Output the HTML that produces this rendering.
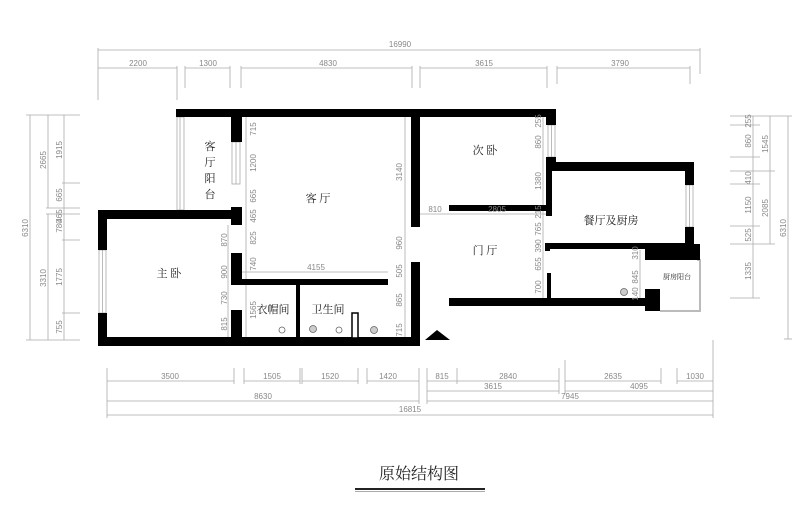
<!DOCTYPE html>
<html><head><meta charset="utf-8"><style>
html,body{margin:0;padding:0;background:#fff;}
svg{display:block;}
.d{font-family:"Liberation Sans",sans-serif;font-size:8px;fill:#888;}
.c{font-family:"Liberation Serif","Noto Serif CJK SC",serif;fill:#222;}
</style></head><body>
<svg width="800" height="513" viewBox="0 0 800 513" xmlns="http://www.w3.org/2000/svg">
<g stroke="#aaa" stroke-width="0.8" fill="none">
<!-- top dims -->
<line x1="98" y1="50" x2="700" y2="50"/>
<line x1="98" y1="68" x2="177" y2="68"/><line x1="185" y1="68" x2="230" y2="68"/>
<line x1="241" y1="68" x2="412" y2="68"/><line x1="420" y1="68" x2="547" y2="68"/>
<line x1="557" y1="68" x2="690" y2="68"/>
<line x1="98" y1="48" x2="98" y2="100"/><line x1="700" y1="48" x2="700" y2="74"/>
<line x1="177" y1="66" x2="177" y2="100"/><line x1="185" y1="66" x2="185" y2="88"/>
<line x1="230" y1="66" x2="230" y2="88"/><line x1="241" y1="66" x2="241" y2="88"/>
<line x1="412" y1="66" x2="412" y2="88"/><line x1="420" y1="66" x2="420" y2="88"/>
<line x1="547" y1="66" x2="547" y2="88"/><line x1="557" y1="66" x2="557" y2="84"/>
<line x1="690" y1="66" x2="690" y2="84"/>
<!-- left dims -->
<line x1="30" y1="115" x2="30" y2="340"/><line x1="48" y1="115" x2="48" y2="208"/>
<line x1="48" y1="214" x2="48" y2="340"/><line x1="64" y1="115" x2="64" y2="340"/>
<line x1="26" y1="115" x2="80" y2="115"/><line x1="26" y1="340" x2="80" y2="340"/>
<line x1="46" y1="208" x2="80" y2="208"/><line x1="46" y1="214" x2="80" y2="214"/>
<line x1="62" y1="183" x2="80" y2="183"/><line x1="62" y1="240" x2="80" y2="240"/>
<line x1="62" y1="313" x2="80" y2="313"/>
<!-- right dims -->
<line x1="788" y1="116" x2="788" y2="339"/><line x1="770" y1="116" x2="770" y2="244"/>
<line x1="753" y1="116" x2="753" y2="298"/>
<line x1="730" y1="116" x2="760" y2="116"/><line x1="730" y1="125" x2="760" y2="125"/>
<line x1="730" y1="157" x2="760" y2="157"/><line x1="730" y1="171" x2="775" y2="171"/>
<line x1="730" y1="184" x2="760" y2="184"/><line x1="730" y1="226" x2="760" y2="226"/>
<line x1="730" y1="244" x2="775" y2="244"/><line x1="730" y1="298" x2="760" y2="298"/>
<line x1="760" y1="116" x2="792" y2="116"/><line x1="784" y1="339" x2="792" y2="339"/>
<!-- bottom dims -->
<line x1="107" y1="381" x2="234" y2="381"/><line x1="244" y1="381" x2="300" y2="381"/>
<line x1="302" y1="381" x2="358" y2="381"/><line x1="367" y1="381" x2="419" y2="381"/>
<line x1="427" y1="381" x2="559" y2="381"/><line x1="565" y1="381" x2="661" y2="381"/>
<line x1="677" y1="381" x2="713" y2="381"/>
<line x1="427" y1="391" x2="559" y2="391"/><line x1="565" y1="391" x2="713" y2="391"/>
<line x1="107" y1="401" x2="419" y2="401"/><line x1="427" y1="401" x2="713" y2="401"/>
<line x1="107" y1="415" x2="713" y2="415"/>
<line x1="107" y1="368" x2="107" y2="418"/><line x1="234" y1="368" x2="234" y2="384"/>
<line x1="244" y1="368" x2="244" y2="384"/><line x1="300" y1="368" x2="300" y2="384"/>
<line x1="302" y1="368" x2="302" y2="384"/><line x1="358" y1="368" x2="358" y2="384"/>
<line x1="367" y1="368" x2="367" y2="384"/><line x1="419" y1="368" x2="419" y2="404"/>
<line x1="427" y1="368" x2="427" y2="404"/><line x1="457" y1="368" x2="457" y2="384"/>
<line x1="559" y1="368" x2="559" y2="394"/><line x1="565" y1="360" x2="565" y2="394"/>
<line x1="661" y1="368" x2="661" y2="384"/><line x1="677" y1="368" x2="677" y2="384"/>
<line x1="713" y1="340" x2="713" y2="418"/>
<!-- interior dims -->
<line x1="246" y1="117" x2="246" y2="337"/><line x1="405" y1="117" x2="405" y2="337"/>
<line x1="228" y1="225" x2="228" y2="337"/>
<line x1="242" y1="272" x2="388" y2="272"/>
<line x1="420" y1="214" x2="449" y2="214"/><line x1="449" y1="214" x2="547" y2="214"/>
<line x1="543" y1="117" x2="543" y2="298"/><line x1="640" y1="250" x2="640" y2="298"/>
<!-- windows -->
<rect x="177" y="117" width="7" height="93"/><line x1="180" y1="117" x2="180" y2="210"/>
<rect x="232" y="142" width="8" height="42"/><line x1="236" y1="142" x2="236" y2="184"/>
<rect x="99" y="250" width="7" height="63"/><line x1="102.5" y1="250" x2="102.5" y2="313"/>
<rect x="548" y="125" width="7" height="32"/><line x1="551.5" y1="125" x2="551.5" y2="157"/>
<rect x="686" y="185" width="7" height="42"/><line x1="689.5" y1="185" x2="689.5" y2="227"/>
<polyline points="697,260 700,260 700,311 660,311" stroke="#bbb" stroke-width="2"/>
</g>
<g fill="#000">
<rect x="176" y="109" width="380" height="8"/>
<rect x="231" y="117" width="11" height="25"/>
<rect x="231" y="207" width="11" height="18"/>
<rect x="98" y="210" width="144" height="9"/>
<rect x="98" y="210" width="9" height="40"/><rect x="98" y="313" width="9" height="33"/>
<rect x="98" y="337" width="322" height="9"/>
<rect x="231" y="253" width="11" height="32"/>
<rect x="231" y="310" width="11" height="36"/>
<rect x="242" y="279" width="146" height="6"/>
<rect x="296" y="285" width="4" height="55"/>
<rect x="411" y="117" width="9" height="110"/>
<rect x="411" y="262" width="9" height="84"/>
<rect x="546" y="109" width="10" height="16"/>
<rect x="546" y="157" width="10" height="14"/>
<rect x="546" y="162" width="148" height="9"/>
<rect x="685" y="162" width="9" height="23"/><rect x="685" y="227" width="9" height="18"/>
<rect x="449" y="205" width="98" height="6"/>
<rect x="546" y="171" width="6" height="45"/>
<rect x="547" y="243" width="138" height="6"/>
<rect x="545" y="243" width="5" height="8"/>
<rect x="645" y="244" width="55" height="16"/>
<rect x="547" y="273" width="4" height="27"/>
<rect x="449" y="298" width="211" height="8"/>
<rect x="645" y="289" width="15" height="22"/>
<polygon points="425,340 437,330 450,340"/>
<rect x="352" y="313" width="6" height="25" fill="#fff" stroke="#000" stroke-width="1.5"/>
</g>
<g stroke="#666" stroke-width="0.8">
<circle cx="282" cy="330" r="3" fill="#fff"/><circle cx="313" cy="329" r="3.5" fill="#ccc"/>
<circle cx="339" cy="330" r="3" fill="#fff"/><circle cx="374" cy="330" r="3.5" fill="#ccc"/>
<circle cx="624" cy="292" r="3.5" fill="#ccc"/>
</g>
<!-- room labels -->
<g class="c" font-size="11" text-anchor="middle">
<text x="210" y="150">客</text><text x="210" y="166">厅</text><text x="210" y="182">阳</text><text x="210" y="198">台</text>
<text x="318" y="202">客 厅</text>
<text x="169" y="277">主 卧</text>
<text x="273" y="313">衣帽间</text>
<text x="328" y="313">卫生间</text>
<text x="485" y="154">次 卧</text>
<text x="485" y="254">门 厅</text>
<text x="611" y="224">餐厅及厨房</text>
<text x="677" y="279" font-size="7">厨房阳台</text>
</g>
<!-- dimension text -->
<g class="d" text-anchor="middle">
<text x="400" y="47">16990</text>
<text x="138" y="66">2200</text><text x="208" y="66">1300</text><text x="328" y="66">4830</text>
<text x="484" y="66">3615</text><text x="620" y="66">3790</text>
<text x="170" y="379">3500</text><text x="272" y="379">1505</text><text x="330" y="379">1520</text>
<text x="388" y="379">1420</text><text x="442" y="379">815</text><text x="508" y="379">2840</text>
<text x="613" y="379">2635</text><text x="695" y="379">1030</text>
<text x="493" y="389">3615</text><text x="639" y="389">4095</text>
<text x="263" y="399">8630</text><text x="570" y="399">7945</text>
<text x="410" y="412">16815</text>
<text x="316" y="270">4155</text>
<text x="435" y="212">810</text><text x="497" y="212">2805</text>
</g>
<g class="d" text-anchor="middle">
<text transform="translate(28,228) rotate(-90)">6310</text>
<text transform="translate(46,160) rotate(-90)">2665</text>
<text transform="translate(46,278) rotate(-90)">3310</text>
<text transform="translate(62,150) rotate(-90)">1915</text>
<text transform="translate(62,195) rotate(-90)">665</text>
<text transform="translate(62,216) rotate(-90)">465</text>
<text transform="translate(62,226) rotate(-90)">780</text>
<text transform="translate(62,277) rotate(-90)">1775</text>
<text transform="translate(62,327) rotate(-90)">755</text>
<text transform="translate(786,228) rotate(-90)">6310</text>
<text transform="translate(768,144) rotate(-90)">1545</text>
<text transform="translate(768,208) rotate(-90)">2085</text>
<text transform="translate(751,121) rotate(-90)">255</text>
<text transform="translate(751,141) rotate(-90)">860</text>
<text transform="translate(751,178) rotate(-90)">410</text>
<text transform="translate(751,205) rotate(-90)">1150</text>
<text transform="translate(751,235) rotate(-90)">525</text>
<text transform="translate(751,271) rotate(-90)">1335</text>
<text transform="translate(256,129) rotate(-90)">715</text>
<text transform="translate(256,163) rotate(-90)">1200</text>
<text transform="translate(256,196) rotate(-90)">665</text>
<text transform="translate(256,216) rotate(-90)">465</text>
<text transform="translate(256,238) rotate(-90)">825</text>
<text transform="translate(256,264) rotate(-90)">740</text>
<text transform="translate(256,310) rotate(-90)">1565</text>
<text transform="translate(227,240) rotate(-90)">870</text>
<text transform="translate(227,272) rotate(-90)">900</text>
<text transform="translate(227,298) rotate(-90)">730</text>
<text transform="translate(227,324) rotate(-90)">815</text>
<text transform="translate(402,172) rotate(-90)">3140</text>
<text transform="translate(402,243) rotate(-90)">960</text>
<text transform="translate(402,271) rotate(-90)">505</text>
<text transform="translate(402,300) rotate(-90)">865</text>
<text transform="translate(402,330) rotate(-90)">715</text>
<text transform="translate(541,121) rotate(-90)">255</text>
<text transform="translate(541,142) rotate(-90)">860</text>
<text transform="translate(541,181) rotate(-90)">1380</text>
<text transform="translate(541,212) rotate(-90)">215</text>
<text transform="translate(541,229) rotate(-90)">765</text>
<text transform="translate(541,246) rotate(-90)">390</text>
<text transform="translate(541,264) rotate(-90)">655</text>
<text transform="translate(541,287) rotate(-90)">700</text>
<text transform="translate(638,253) rotate(-90)">310</text>
<text transform="translate(638,277) rotate(-90)">845</text>
<text transform="translate(638,294) rotate(-90)">140</text>
</g>
<text x="419" y="479" class="c" font-size="16" text-anchor="middle">原始结构图</text>
<rect x="355" y="488" width="130" height="2" fill="#222"/>
<rect x="355" y="491" width="130" height="1" fill="#aaa"/>
</svg>
</body></html>
